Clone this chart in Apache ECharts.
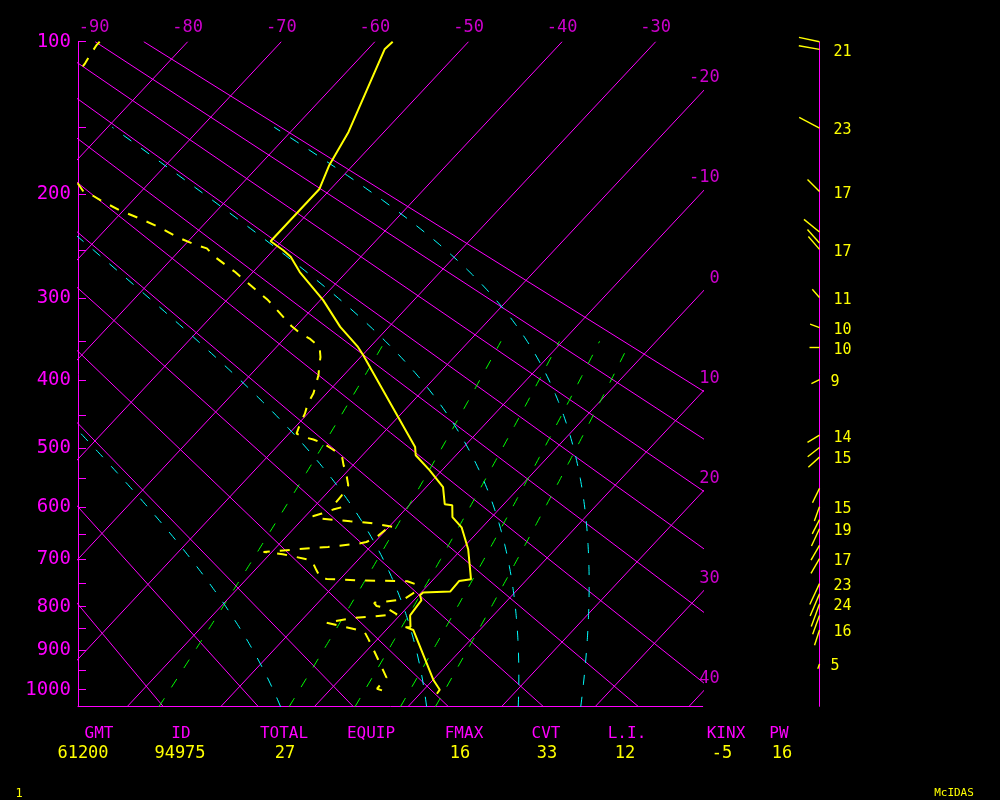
<!DOCTYPE html>
<html><head><meta charset="utf-8">
<script src="https://cdn.jsdelivr.net/npm/echarts@6/dist/echarts.min.js"></script>
<style>html,body{margin:0;padding:0;background:#000}#c{width:1000px;height:800px}</style>
</head><body><div id="c"></div>
<script>
// ---------------- data ----------------
const pressureLabels = [100,200,300,400,500,600,700,800,900,1000];
const pressureTicks = [100,150,200,250,300,350,400,450,500,550,600,650,700,750,800,850,900,950,1000];
const isotherms = [-80,-70,-60,-50,-40,-30,-20,-10,0,10,20,30,40];
const isothermTopLabels = [-90,-80,-70,-60,-50,-40,-30];
const isothermRightLabels = [-20,-10,0,10,20,30,40];
const dryAdiabats = [-20,-10,0,10,20,30,40,50,60,70,80,90];   // potential temperature, deg C
const mixingRatios = [1,3,5,7,9];                              // g/kg
const moistAdiabats = [0,30,60,90];                            // equivalent potential temperature, deg C
// sounding: [pressure hPa, deg C]
const temperature = [[100,-58.1],[103.9,-58.2],[153.2,-53.8],[177.6,-52.5],[196,-51.2],[241.6,-51.2],[250,-49.0],[256.6,-47.5],[272,-45.0],[301.9,-39.7],[332.6,-35.2],[357,-31.3],[367.5,-29.9],[452.4,-20.0],[498.1,-15.2],[511.4,-14.3],[536.1,-11.3],[564.6,-8.2],[594.9,-6.3],[596.7,-5.4],[618.2,-4.2],[637.3,-2.2],[679.7,0.7],[718.2,2.8],[740.9,4.0],[744.6,2.9],[767,3.0],[769,0.2],[775.1,0.15],[785.8,0.8],[819.5,1.1],[845.9,2.3],[846.5,1.8],[853,2.9],[975.8,10.1],[1000,11.7],[1010.6,11.8]];
const dewpoint = [[100,-89.4],[101.7,-89.4],[106.8,-89.1],[111.3,-88.8],[116.9,-88.6],[150,-93],[185,-84],[191.2,-77.6],[197.2,-76.3],[200.8,-74.9],[205,-73.5],[213.7,-70.4],[220.7,-67.5],[228.9,-64.4],[238,-61.5],[245.4,-58.7],[248.4,-57.3],[256.7,-55.6],[272,-51.9],[301.9,-45.6],[308.6,-44.4],[320.8,-42.3],[331.6,-40.5],[339.9,-38.9],[346.7,-37.3],[357,-35.4],[369.7,-34.3],[380.4,-33.6],[393.4,-32.7],[404.9,-32.1],[418.7,-31.4],[432.8,-31.0],[447.4,-30.3],[462.2,-29.8],[477.3,-29.2],[482.5,-28.1],[486.5,-26.8],[492.9,-25.3],[500.6,-24.0],[511.4,-22.2],[527.8,-21.0],[544.3,-19.7],[561.6,-18.5],[578.9,-18.2],[593.6,-18.1],[600.2,-17.0],[604.5,-17.7],[611.8,-18.5],[616.8,-19.2],[621,-18.2],[626,-14.7],[629.1,-12.4],[635.3,-10.0],[636.7,-9.5],[643,-10.1],[656,-10.3],[665.5,-10.9],[668.7,-11.6],[675.2,-14.5],[679.7,-17.5],[685,-20.9],[689.7,-18.6],[693.8,-17.3],[701.9,-14.9],[722.3,-13.4],[739.5,-12.1],[740.3,-11.4],[743.1,-8.1],[744.6,-3.7],[745,-2.6],[751.6,-1.4],[768.1,-0.7],[784.3,-1.2],[791.6,-4.0],[798.7,-3.4],[803.6,-2.1],[817.3,-0.4],[821.8,-2.7],[825.6,-4.7],[833.3,-6.5],[836.3,-7.1],[841.9,-5.7],[851.3,-3.4],[857.7,-2.1],[875.6,-0.9],[900.9,0.7],[923.7,2.1],[968.8,4.8],[997.4,4.9],[1001.9,5.6]];
// winds: [pressure hPa, direction deg, speed, labelled]
const winds = [[100,282,21,0],[103.9,280,21,1],[150.6,298,23,1],[197.9,315,17,1],[233,309,20,0],[243.2,318,18,0],[249.4,319,17,1],[299,319,11,1],[333.4,290,10,1],[357.7,270,10,1],[399.6,244,9,1],[479.8,239,14,1],[499,232,15,0],[514.4,228,15,1],[566.8,206,16,0],[599.5,200,15,1],[623,207,16,0],[640,205,19,1],[672,210,17,0],[698.5,210,17,1],[750,205,23,1],[772,203,24,0],[794,200,24,1],[820,200,20,0],[853,198,16,1],[935,200,5,1]];
const statNames  = ['GMT','ID','TOTAL','EQUIP','FMAX','CVT','L.I.','KINX','PW'];
const statValues = ['61200','94975','27','','16','33','12','-5','16'];

// ---------------- diagram geometry ----------------
const K = 0.286, P_TOP = 100, P_BOT = 1045, P0_DRY = 991;
const SKEW = 18.62, X_MIN = -91.72, X_MAX = -24.98;
const Q = p => Math.pow(p, K);
const Q_TOP = Q(P_TOP);
const pt = (T, p) => [T - SKEW * (Q(p) - Q_TOP), Q(p)];
const MAG = '#ff00ff', YEL = '#ffff00', CYA = '#00ffff', GRN = '#00ff00';
const FONT = 'DejaVu Sans Mono';

const es = tc => 6.112*Math.exp(17.67*tc/(tc+243.5));
function tdFromE(e){ const l = Math.log(e/6.112); return 243.5*l/(17.67-l); }
function mixLine(w){ const out=[]; for(let p=P_BOT;p>=350;p-=5){ const e=w*p/(622+w); out.push(pt(tdFromE(e),p)); } return out; }
function dryLine(th){ return [P_TOP,P_BOT].map(p => pt((th+273.15)*Math.pow(p/P0_DRY,K)-273.15, p)); }
function thetaES(Tk,p){ const e=es(Tk-273.15); const rs=0.622*e/(p-e); return Tk*Math.pow(1000/p,K)*Math.exp(2490*rs/Tk); }
function moistLine(thC){
  const target=thC+273.15, out=[];
  for(let p=P_BOT;p>=150;p-=5){
    let lo=150, hi=330;
    for(let i=0;i<50;i++){ const m=(lo+hi)/2; if(thetaES(m,p)>target) hi=m; else lo=m; }
    out.push(pt((lo+hi)/2-273.15,p));
  }
  return out;
}

const series = [];
function addLine(data,color,width,type,z){
  series.push({type:'line',xAxisIndex:0,yAxisIndex:0,data,symbol:'none',showSymbol:false,silent:true,clip:true,
    animation:false,lineStyle:{color,width,type},z});
}
isotherms.forEach(T => addLine([pt(T,P_TOP),pt(T,P_BOT)],MAG,1,'solid',2));
dryAdiabats.forEach(th => addLine(dryLine(th),MAG,1,'solid',2));
mixingRatios.forEach(w => addLine(mixLine(w),GRN,1,[10,13],3));
moistAdiabats.forEach(t => addLine(moistLine(t),CYA,1,[10,12],3));
addLine(dewpoint.map(d=>pt(d[1],d[0])),YEL,2,[10,10],5);
addLine(temperature.map(d=>pt(d[1],d[0])),YEL,2,'solid',6);

// isotherm labels (top and right)
series.push({type:'scatter',xAxisIndex:0,yAxisIndex:0,symbolSize:0,clip:false,silent:true,animation:false,
  data:isothermTopLabels.map(T=>({value:[T,Q_TOP],name:String(T)})),
  label:{show:true,formatter:'{b}',position:[0,-14.5],align:'center',verticalAlign:'middle',color:MAG,fontFamily:FONT,fontSize:17}});
series.push({type:'scatter',xAxisIndex:0,yAxisIndex:0,symbolSize:0,clip:false,silent:true,animation:false,
  data:isothermRightLabels.map(T=>({value:[X_MAX,Q_TOP+(T-X_MAX)/SKEW],name:String(T)})),
  label:{show:true,formatter:'{b}',position:[17,-13.5],align:'right',verticalAlign:'middle',color:MAG,fontFamily:FONT,fontSize:17}});

// wind staff (pressure axis of the wind column)
series.push({type:'line',xAxisIndex:1,yAxisIndex:1,data:[[0,Q(P_TOP)],[0,Q(P_BOT)]],symbol:'none',silent:true,animation:false,clip:false,
  lineStyle:{color:MAG,width:1},z:2});
// winds
series.push({type:'custom',xAxisIndex:1,yAxisIndex:1,silent:true,animation:false,z:4,
  data:winds.map(w=>[0,Q(w[0]),w[1],w[2],w[3]]),
  renderItem:(params,api)=>{
    const c=api.coord([0,api.value(1)]);const dir=api.value(2)*Math.PI/180;const spd=api.value(3);
    const L=api.size([spd,0])[0];
    const ch=[{type:'line',shape:{x1:c[0],y1:c[1],x2:c[0]+Math.sin(dir)*L,y2:c[1]-Math.cos(dir)*L},style:{stroke:YEL,lineWidth:1.4}}];
    if(api.value(4)) ch.push({type:'text',x:c[0]+(spd>=10?14:11),y:c[1]+2.4,style:{text:String(spd),fill:YEL,font:'15px '+FONT,verticalAlign:'middle',align:'left'}});
    return {type:'group',children:ch};
  }});

const graphic = [];
const nameX=[99,181,284,371,464,546,627,726,779], valX=[83,180,285,371,460,547,625,722,782];
statNames.forEach((s,i)=>graphic.push({type:'text',x:nameX[i],y:734,style:{text:s,fill:MAG,font:'16px '+FONT,align:'center',verticalAlign:'middle'}}));
statValues.forEach((s,i)=>graphic.push({type:'text',x:valX[i],y:754,style:{text:s,fill:YEL,font:'17px '+FONT,align:'center',verticalAlign:'middle'}}));
graphic.push({type:'text',x:19,y:794,style:{text:'1',fill:YEL,font:'12px '+FONT,align:'center',verticalAlign:'middle'}});
graphic.push({type:'text',x:954,y:793,style:{text:'McIDAS',fill:YEL,font:'11px '+FONT,align:'center',verticalAlign:'middle'}});

const chart = echarts.init(document.getElementById('c'),null,{renderer:'canvas'});
chart.setOption({
  backgroundColor:'#000',animation:false,
  grid:[{left:78,top:41.7,width:624.7,height:665,containLabel:false},{left:760,top:41.7,width:59.5,height:665,containLabel:false}],
  xAxis:[
    {type:'value',gridIndex:0,min:X_MIN,max:X_MAX,position:'bottom',axisLine:{show:true,onZero:false,lineStyle:{color:MAG,width:1}},axisTick:{show:false},axisLabel:{show:false},splitLine:{show:false}},
    {type:'value',gridIndex:1,min:-59.5,max:0,show:false}
  ],
  yAxis:[
    {type:'value',gridIndex:0,inverse:true,min:Q(P_TOP),max:Q(P_BOT),position:'left',
      axisLine:{show:true,onZero:false,lineStyle:{color:MAG,width:1}},
      axisTick:{show:true,inside:true,length:8,lineStyle:{color:MAG,width:1},customValues:pressureTicks.map(Q)},
      axisLabel:{show:true,customValues:pressureLabels.map(Q),formatter:v=>String(Math.round(Math.pow(v,1/K))),color:MAG,fontFamily:FONT,fontSize:19,margin:7},
      splitLine:{show:false}},
    {type:'value',gridIndex:1,inverse:true,min:Q(P_TOP),max:Q(P_BOT),show:false}
  ],
  series, graphic
});
</script></body></html>
